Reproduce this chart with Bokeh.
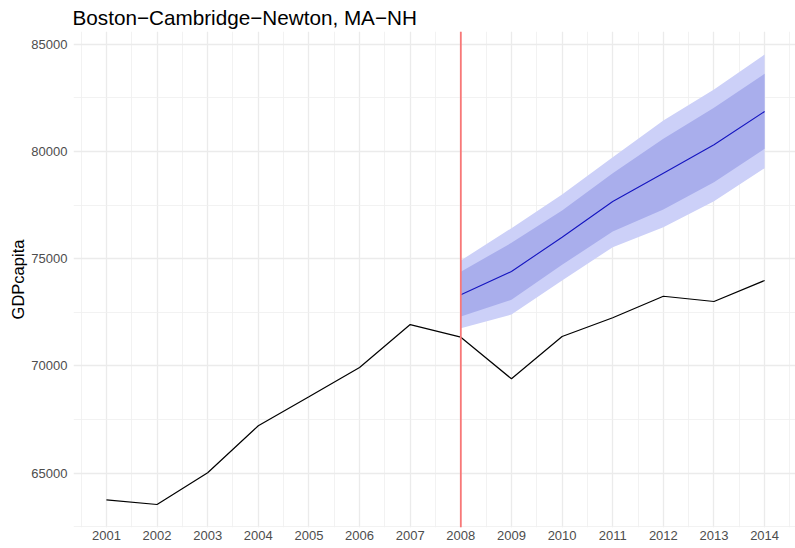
from bokeh.plotting import figure
from bokeh.models import FixedTicker, PrintfTickFormatter, Span, Range1d
from bokeh.embed import file_html
from bokeh.resources import INLINE

# Data
years = [2001, 2002, 2003, 2004, 2005, 2006, 2007, 2008, 2009, 2010, 2011, 2012, 2013, 2014]
gdp = [63760, 63540, 65020, 67210, 68560, 69930, 71930, 71340, 69400, 71370, 72245, 73250, 73005, 73984]

fc_years = [2008, 2009, 2010, 2011, 2012, 2013, 2014]
fc_mean = [73317, 74403, 76002, 77667, 78986, 80310, 81862]
lo80 = [72305, 73084, 74715, 76268, 77294, 78566, 80124]
hi80 = [74390, 75741, 77247, 78986, 80590, 82035, 83620]
lo95 = [71760, 72399, 73984, 75536, 76469, 77681, 79219]
hi95 = [74916, 76422, 77993, 79732, 81443, 82888, 84520]

x_ticks = list(range(2001, 2015))
x_minor = [y + 0.5 for y in range(2000, 2015)]
y_ticks = [65000, 70000, 75000, 80000, 85000]
y_minor = [62500, 67500, 72500, 77500, 82500]
event_year = 2008

FONT = "Liberation Sans"

p = figure(frame_width=722, frame_height=496, output_backend="svg", toolbar_location=None,
           x_range=Range1d(2000.35, 2014.61), y_range=Range1d(62468, 85592),
           title="Boston\u2212Cambridge\u2212Newton, MA\u2212NH",
           min_border_left=73, min_border_right=0, min_border_top=31, min_border_bottom=21)

p.outline_line_color = None
p.background_fill_color = "white"
p.border_fill_color = "white"

p.title.text_font = FONT
p.title.text_font_size = "20.7px"
p.title.text_font_style = "normal"
p.title.text_color = "black"
p.title.align = "left"
p.title.standoff = 5
p.title.offset = -1

p.varea(x=fc_years, y1=lo95, y2=hi95, fill_color="#CCD0F8", fill_alpha=1.0)
p.varea(x=fc_years, y1=lo80, y2=hi80, fill_color="#A9AEEC", fill_alpha=1.0)
p.line(x=fc_years, y=fc_mean, line_color="#1515C0", line_width=1.1)
p.line(x=years, y=gdp, line_color="black", line_width=1.2)

p.add_layout(Span(location=event_year, dimension="height", line_color="#F87878", line_width=1.8))

# Axes
p.xaxis.ticker = FixedTicker(ticks=x_ticks, minor_ticks=x_minor)
p.yaxis.ticker = FixedTicker(ticks=y_ticks, minor_ticks=y_minor)
p.yaxis.formatter = PrintfTickFormatter(format="%d")
p.xaxis.formatter = PrintfTickFormatter(format="%d")
for ax in (p.xaxis, p.yaxis):
    ax.axis_line_color = None
    ax.major_tick_line_color = None
    ax.minor_tick_line_color = None
    ax.major_tick_out = 0
    ax.major_tick_in = 0
    ax.minor_tick_out = 0
    ax.minor_tick_in = 0
    ax.major_label_text_font = FONT
    ax.major_label_text_font_size = "13px"
    ax.major_label_text_color = "#4D4D4D"
p.xaxis.major_label_standoff = 3
p.yaxis.major_label_standoff = 6
p.yaxis.axis_label = "GDPcapita"
p.yaxis.axis_label_text_font = FONT
p.yaxis.axis_label_text_font_size = "16.5px"
p.yaxis.axis_label_text_font_style = "normal"
p.yaxis.axis_label_text_color = "black"
p.yaxis.axis_label_standoff = 1

for g in (p.xgrid, p.ygrid):
    g.grid_line_color = "#EBEBEB"
    g.grid_line_width = 1.3
    g.minor_grid_line_color = "#EFEFEF"
    g.minor_grid_line_width = 0.8

open("out.html", "w").write(file_html(p, INLINE))
